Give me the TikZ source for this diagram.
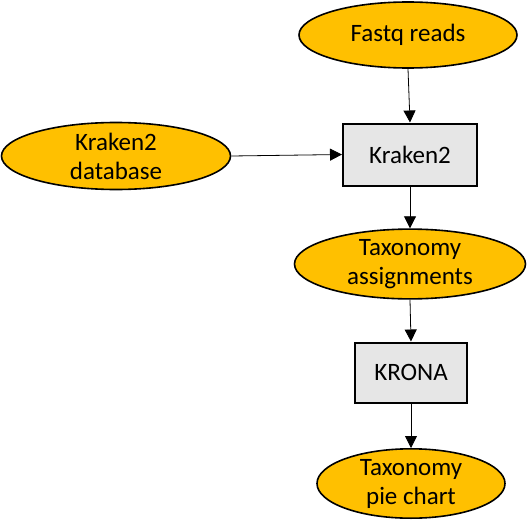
\documentclass[tikz,border=0pt]{standalone}
\usepackage{fontspec}
\setmainfont{Carlito}
\usetikzlibrary{shapes.geometric,arrows.meta}
\definecolor{ellfill}{HTML}{FFC000}
\definecolor{boxfill}{HTML}{E6E6E6}
\begin{document}
\begin{tikzpicture}[x=1pt,y=-1pt,
  ellnode/.style={ellipse,draw=black,line width=1.6pt,fill=ellfill,inner sep=0pt,
    font=\fontsize{25}{29}\selectfont,align=center},
  boxnode/.style={rectangle,draw=black,line width=2pt,fill=boxfill,inner sep=0pt,
    font=\fontsize{25}{29}\selectfont,align=center},
  conn/.style={line width=0.8pt,-{Triangle[length=12pt,width=12pt]}}]
\useasboundingbox (0,0) rectangle (527,530);
\node[ellnode,minimum width=218pt,minimum height=66pt] (fastq) at (408,35) {Fastq reads};
\node[ellnode,minimum width=229pt,minimum height=67pt] (db) at (116,156) {Kraken2\\database};
\node[boxnode,minimum width=134pt,minimum height=62pt] (k2) at (410,154.5) {Kraken2};
\node[ellnode,minimum width=231pt,minimum height=67pt] (tax) at (410,264) {Taxonomy\\assignments};
\node[boxnode,minimum width=112pt,minimum height=60pt] (krona) at (411,372.5) {KRONA};
\node[ellnode,minimum width=188pt,minimum height=63pt] (pie) at (411,483.5) {Taxonomy\\pie chart};
\draw[conn] (fastq.south) -- (k2.north);
\draw[conn] (db.east) -- (k2.west);
\draw[conn] (k2.south) -- (tax.north);
\draw[conn] (tax.south) -- (krona.north);
\draw[conn] (krona.south) -- (pie.north);
\end{tikzpicture}
\end{document}
